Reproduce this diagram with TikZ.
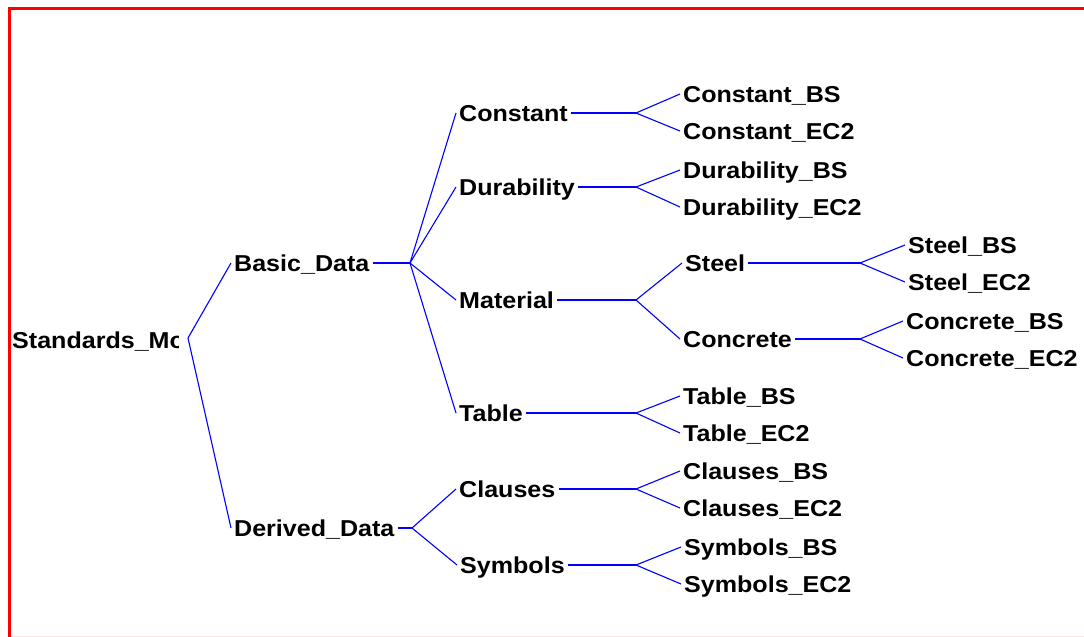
\documentclass[tikz,border=0pt]{standalone}
\usepackage{fontspec}
\setmainfont{Liberation Sans}
\newfontfamily\lblfont[FakeStretch=1.09]{Liberation Sans}
\usetikzlibrary{positioning}

\begin{document}
\begin{tikzpicture}[x=1pt,y=-1pt,
	lbl/.style={anchor=west, inner xsep=3pt, inner ysep=0pt, text height=16.5pt, text depth=0pt,
		font=\lblfont\fontsize{23}{23}\selectfont\bfseries},
	wire/.style={draw=blue, line width=1.1pt},
	frame/.style={draw=red, line width=3.5pt}]
	\useasboundingbox (0,0) rectangle (1084,637);
	% border
	\draw[frame] (9.5,637) -- (9.5,8.5) -- (1084,8.5);
	\draw[red!12, line width=1pt] (11,636.5) -- (1084,636.5);
	% root, cut off at the right
	\begin{scope}
		\clip (0,0) rectangle (178,637);
		\node[lbl] (root) at (9,340) {Standards\_Model};
	\end{scope}
	\coordinate (froot) at (188,338);
	% level 1
	\node[lbl] (basic) at (231,263) {Basic\_Data};
	\node[lbl] (derived) at (231,528) {Derived\_Data};
	\coordinate (fbasic) at (410,263);
	\coordinate (fderived) at (412,528);
	% level 2
	\node[lbl] (constant) at (456,113) {Constant};
	\node[lbl] (durability) at (456,187) {Durability};
	\node[lbl] (material) at (456,300) {Material};
	\node[lbl] (table) at (456,413) {Table};
	\node[lbl] (clauses) at (456,489) {Clauses};
	\node[lbl] (symbols) at (457,565) {Symbols};
	\coordinate (fconstant) at (636,113);
	\coordinate (fdurability) at (636,187);
	\coordinate (fmaterial) at (636,300);
	\coordinate (ftable) at (636,413);
	\coordinate (fclauses) at (636,489);
	\coordinate (fsymbols) at (636,565);
	% level 3
	\node[lbl] (constantbs) at (680,94) {Constant\_BS};
	\node[lbl] (constantec) at (680,131) {Constant\_EC2};
	\node[lbl] (durabilitybs) at (680,170) {Durability\_BS};
	\node[lbl] (durabilityec) at (680,207) {Durability\_EC2};
	\node[lbl] (steel) at (682,263) {Steel};
	\node[lbl] (concrete) at (680,339) {Concrete};
	\node[lbl] (tablebs) at (680,396) {Table\_BS};
	\node[lbl] (tableec) at (680,433) {Table\_EC2};
	\node[lbl] (clausesbs) at (680,471) {Clauses\_BS};
	\node[lbl] (clausesec) at (680,508) {Clauses\_EC2};
	\node[lbl] (symbolsbs) at (681,547) {Symbols\_BS};
	\node[lbl] (symbolsec) at (681,584) {Symbols\_EC2};
	\coordinate (fsteel) at (860,263);
	\coordinate (fconcrete) at (860,339);
	% level 4
	\node[lbl] (steelbs) at (905,245) {Steel\_BS};
	\node[lbl] (steelec) at (905,282) {Steel\_EC2};
	\node[lbl] (concretebs) at (903,321) {Concrete\_BS};
	\node[lbl] (concreteec) at (903,358) {Concrete\_EC2};
	% connectors
	\draw[wire] (froot) -- (basic.west);
	\draw[wire] (froot) -- (derived.west);
	\draw[wire] (basic.east) -- (fbasic);
	\draw[wire] (fbasic) -- (constant.west);
	\draw[wire] (fbasic) -- (durability.west);
	\draw[wire] (fbasic) -- (material.west);
	\draw[wire] (fbasic) -- (table.west);
	\draw[wire] (derived.east) -- (fderived);
	\draw[wire] (fderived) -- (clauses.west);
	\draw[wire] (fderived) -- (symbols.west);
	\draw[wire] (constant.east) -- (fconstant);
	\draw[wire] (fconstant) -- (constantbs.west);
	\draw[wire] (fconstant) -- (constantec.west);
	\draw[wire] (durability.east) -- (fdurability);
	\draw[wire] (fdurability) -- (durabilitybs.west);
	\draw[wire] (fdurability) -- (durabilityec.west);
	\draw[wire] (material.east) -- (fmaterial);
	\draw[wire] (fmaterial) -- (steel.west);
	\draw[wire] (fmaterial) -- (concrete.west);
	\draw[wire] (table.east) -- (ftable);
	\draw[wire] (ftable) -- (tablebs.west);
	\draw[wire] (ftable) -- (tableec.west);
	\draw[wire] (clauses.east) -- (fclauses);
	\draw[wire] (fclauses) -- (clausesbs.west);
	\draw[wire] (fclauses) -- (clausesec.west);
	\draw[wire] (symbols.east) -- (fsymbols);
	\draw[wire] (fsymbols) -- (symbolsbs.west);
	\draw[wire] (fsymbols) -- (symbolsec.west);
	\draw[wire] (steel.east) -- (fsteel);
	\draw[wire] (fsteel) -- (steelbs.west);
	\draw[wire] (fsteel) -- (steelec.west);
	\draw[wire] (concrete.east) -- (fconcrete);
	\draw[wire] (fconcrete) -- (concretebs.west);
	\draw[wire] (fconcrete) -- (concreteec.west);
\end{tikzpicture}
\end{document}
